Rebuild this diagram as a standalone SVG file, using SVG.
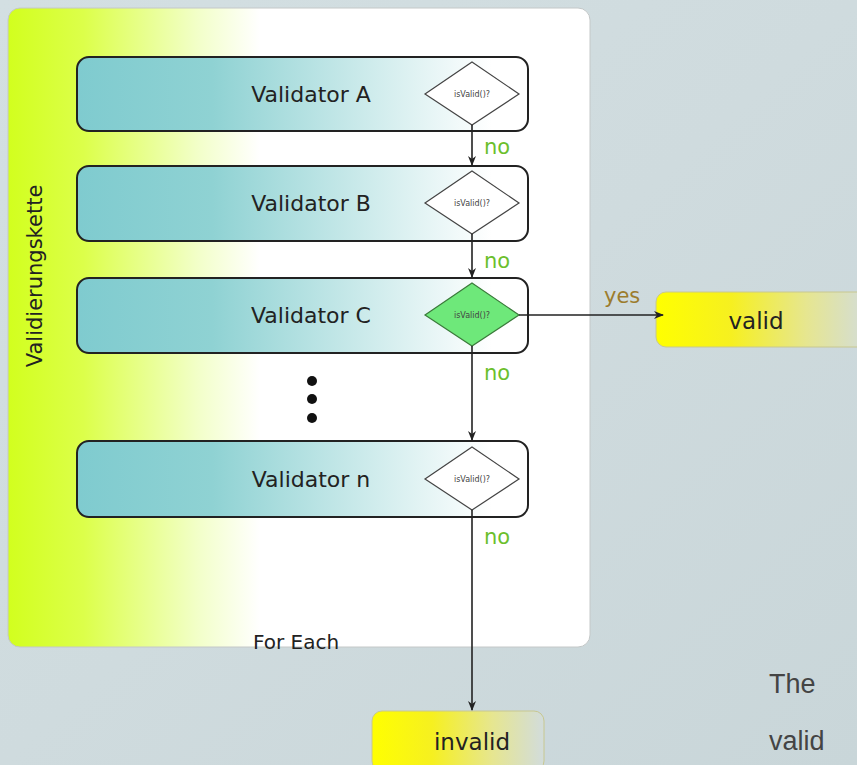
<svg xmlns="http://www.w3.org/2000/svg" width="857" height="765" viewBox="0 0 857 765">
<defs>
<linearGradient id="bg" x1="0" y1="0" x2="1" y2="1">
<stop offset="0" stop-color="#d3dfe2"/><stop offset="0.5" stop-color="#cfdbde"/><stop offset="1" stop-color="#c9d6d9"/>
</linearGradient>
<linearGradient id="panelGrad" x1="8" y1="0" x2="260" y2="0" gradientUnits="userSpaceOnUse">
<stop offset="0" stop-color="#d2ff1e"/><stop offset="0.3" stop-color="#dcff4a"/><stop offset="0.75" stop-color="#f2ffc8"/><stop offset="1" stop-color="#ffffff"/>
</linearGradient>
<linearGradient id="valGrad" x1="0" y1="0" x2="1" y2="0">
<stop offset="0" stop-color="#7fcbcf"/><stop offset="0.3" stop-color="#8fd2d3"/><stop offset="0.92" stop-color="#ffffff"/><stop offset="1" stop-color="#ffffff"/>
</linearGradient>
<linearGradient id="termGrad" x1="0" y1="0" x2="1" y2="0">
<stop offset="0" stop-color="#ffff00"/><stop offset="0.35" stop-color="#f6f020"/><stop offset="0.7" stop-color="#e6e690"/><stop offset="1" stop-color="#d2dcdc"/>
</linearGradient>
<marker id="arr" markerWidth="10" markerHeight="10" refX="9" refY="5" orient="auto" markerUnits="userSpaceOnUse">
<path d="M0,1 L10,5 L0,9 L3,5 Z" fill="#222"/>
</marker>
<style>
.vbox{fill:url(#valGrad);stroke:#222;stroke-width:2}
.dia{fill:#ffffff;stroke:#444;stroke-width:1.2}
.diag{fill:#6ee87a;stroke:#3a7a3a;stroke-width:1.2}
.vt{font-family:"DejaVu Sans",sans-serif;font-size:22px;fill:#222;text-anchor:middle}
.dt{font-family:"DejaVu Sans",sans-serif;font-size:8px;fill:#444;text-anchor:middle}
.no{font-family:"DejaVu Sans",sans-serif;font-size:21px;fill:#6cbf2c}
.yes{font-family:"DejaVu Sans",sans-serif;font-size:21px;fill:#9c7c2c}
.conn{stroke:#222;stroke-width:1.6;fill:none}
.term{fill:url(#termGrad);stroke:#c8c890;stroke-width:1}
.tt{font-family:"DejaVu Sans",sans-serif;font-size:23px;fill:#222;text-anchor:middle}
.big{font-family:"Liberation Sans",sans-serif;font-size:27px;fill:#444}
</style>
</defs>
<rect width="857" height="765" fill="url(#bg)"/>
<g id="panel">
<rect x="8" y="8" width="582" height="639" rx="12" fill="url(#panelGrad)" stroke="#c4c8c8" stroke-width="1"/>
<text x="42" y="276" transform="rotate(-90 42 276)" font-family="DejaVu Sans, sans-serif" font-size="21" fill="#222" text-anchor="middle">Validierungskette</text>
<text x="296" y="649" font-family="DejaVu Sans, sans-serif" font-size="20" fill="#222" text-anchor="middle">For Each</text>
</g>
<g id="validatorA">
<rect class="vbox" x="77" y="57" width="451" height="74" rx="12"/>
<text class="vt" x="311" y="102">Validator A</text>
<polygon class="dia" points="472,62 519,94 472,125 425,94"/>
<text class="dt" x="472" y="97">isValid()?</text>
</g>
<g id="validatorB">
<rect class="vbox" x="77" y="166" width="451" height="75" rx="12"/>
<text class="vt" x="311" y="211">Validator B</text>
<polygon class="dia" points="472,171 519,203 472,234 425,203"/>
<text class="dt" x="472" y="206">isValid()?</text>
</g>
<g id="validatorC">
<rect class="vbox" x="77" y="278" width="451" height="75" rx="12"/>
<text class="vt" x="311" y="323">Validator C</text>
<polygon class="diag" points="472,283 519,315 472,346 425,315"/>
<text class="dt" x="472" y="318">isValid()?</text>
</g>
<g id="dots">
<circle cx="312" cy="381" r="5" fill="#111"/>
<circle cx="312" cy="399" r="5" fill="#111"/>
<circle cx="312" cy="418" r="5" fill="#111"/>
</g>
<g id="validatorN">
<rect class="vbox" x="77" y="441" width="451" height="76" rx="12"/>
<text class="vt" x="311" y="487">Validator n</text>
<polygon class="dia" points="472,447 519,479 472,510 425,479"/>
<text class="dt" x="472" y="482">isValid()?</text>
</g>
<g id="valid">
<rect class="term" x="656" y="292" width="215" height="55" rx="10"/>
<text class="tt" x="756" y="329">valid</text>
</g>
<g id="invalid">
<rect class="term" x="372" y="711" width="172" height="60" rx="10"/>
<text class="tt" x="472" y="750">invalid</text>
</g>
<g id="connectors">
<line class="conn" x1="472" y1="125" x2="472" y2="165" marker-end="url(#arr)"/>
<line class="conn" x1="472" y1="234" x2="472" y2="277" marker-end="url(#arr)"/>
<line class="conn" x1="519" y1="315" x2="663" y2="315" marker-end="url(#arr)"/>
<line class="conn" x1="472" y1="346" x2="472" y2="440" marker-end="url(#arr)"/>
<line class="conn" x1="472" y1="510" x2="472" y2="710" marker-end="url(#arr)"/>
<text class="no" x="484" y="154">no</text>
<text class="no" x="484" y="268">no</text>
<text class="no" x="484" y="380">no</text>
<text class="no" x="484" y="544">no</text>
<text class="yes" x="604" y="303">yes</text>
</g>
<g id="sidetext">
<text class="big" x="769" y="693">The</text>
<text class="big" x="769" y="750">valid</text>
</g>
</svg>
